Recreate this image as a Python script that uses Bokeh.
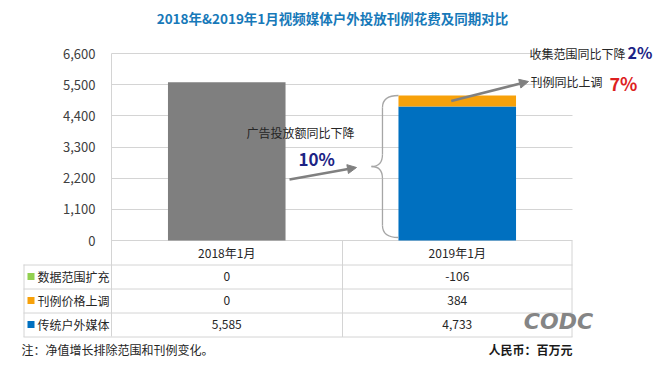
from bokeh.plotting import figure
from bokeh.models import (Range1d, FixedTicker, NumeralTickFormatter, LinearAxis, Grid,
                          Label, Arrow, NormalHead, ColumnDataSource)
from bokeh.core.properties import value
from bokeh.embed import file_html
from bokeh.resources import INLINE

# ---------------- data ----------------
title_text = "2018年&2019年1月视频媒体户外投放刊例花费及同期对比"
categories = ["2018年1月", "2019年1月"]
series_names = ["数据范围扩充", "刊例价格上调", "传统户外媒体"]
scope_change = [0, -106]
price_change = [0, 384]
traditional = [5585, 4733]
y_ticks = [0, 1100, 2200, 3300, 4400, 5500, 6600]
ad_drop_text = "广告投放额同比下降"
ad_drop_pct = "10%"
price_up_text = "刊例同比上调"
price_up_pct = "7%"
scope_drop_text = "收集范围同比下降"
scope_drop_pct = "2%"
note_text = "注：净值增长排除范围和刊例变化。"
unit_text = "人民币：百万元"
logo_text = "CODC"

# ---------------- style ----------------
FONT = "Noto Sans CJK SC"
GRID = "#d4d4d4"
TXT = "#262626"
NAVY = "#1c2385"
RED = "#dd1f1f"
ARROW_C = "#808080"
TITLE_C = "#1779b9"
series_colors = {"数据范围扩充": "#92d050", "刊例价格上调": "#f7a10a", "传统户外媒体": "#0070c0"}
base_colors = ["#7f7f7f", "#0070c0"]
BAR_W = 0.51

# canvas geometry (px)
W, H = 660, 368
LEFT, RIGHT = 111, 572          # plot area / table data columns
TOP, ZERO = 53, 240             # y of 6600 and of 0
ROW_H = 24
LABEL_COL_LEFT = 23
Y_MAX = y_ticks[-1]
ncat = len(categories)
col_w = (RIGHT - LEFT) / ncat
v_per_px = Y_MAX / (ZERO - TOP)


def dx(px):
    return (px - LEFT) / col_w


def dy(py):
    return (ZERO - py) * v_per_px


p = figure(width=W, height=H, title=None,
           x_range=Range1d(dx(0), dx(W)), y_range=Range1d(dy(H), dy(0)),
           x_axis_location=None, y_axis_location=None, min_border=0,
           output_backend="svg", toolbar_location=None)
p.outline_line_color = None
p.background_fill_color = "white"
p.border_fill_color = "white"
p.grid.visible = False

n_rows = len(series_names)
head_bottom = ZERO + ROW_H
table_bottom = ZERO + ROW_H * (n_rows + 1)

# y axis drawn at the left edge of the plot area
yaxis = LinearAxis(ticker=FixedTicker(ticks=y_ticks), formatter=NumeralTickFormatter(format="0,0"),
                   fixed_location=0, bounds=(dy(table_bottom), Y_MAX),
                   axis_line_color=GRID, major_tick_line_color=None, minor_tick_line_color=None,
                   major_tick_in=0, major_tick_out=0, major_label_standoff=16,
                   major_label_text_font=FONT, major_label_text_font_size="13px",
                   major_label_text_color="#404040")
p.add_layout(yaxis, "left")

# horizontal gridlines limited to the category columns
if "cross_bounds" in Grid.properties():
    p.add_layout(Grid(dimension=1, ticker=FixedTicker(ticks=y_ticks), grid_line_color=GRID,
                      cross_bounds=(0, ncat)), "center")
else:
    p.segment(x0=[0] * len(y_ticks), y0=y_ticks, x1=[ncat] * len(y_ticks), y1=y_ticks,
              line_color=GRID, line_width=1)

# bars
xs = [i + 0.5 for i in range(ncat)]
price_top = [t + c for t, c in zip(traditional, price_change)]
src = ColumnDataSource(dict(x=xs, base=traditional, price_top=price_top, color=base_colors))
p.vbar(x="x", bottom=0, top="base", width=BAR_W, fill_color="color", line_color=None, source=src)
p.vbar(x="x", bottom="base", top="price_top", width=BAR_W,
       fill_color=series_colors["刊例价格上调"], line_color=None, source=src)

# ---------------- table ----------------
hl = [head_bottom + ROW_H * i + 0.5 for i in range(n_rows + 1)]
p.segment(x0=[dx(LABEL_COL_LEFT)] * len(hl), y0=[dy(v) for v in hl],
          x1=[ncat] * len(hl), y1=[dy(v) for v in hl], line_color=GRID, line_width=1)
vx = [dx(LABEL_COL_LEFT + 0.5)]
vy0 = [dy(head_bottom)]
for j in range(1, ncat + 1):
    vx.append(j - (0.5 / col_w if j == ncat else -0.5 / col_w))
    vy0.append(0)
p.segment(x0=vx, y0=vy0, x1=vx, y1=[dy(table_bottom + 0.5)] * len(vx), line_color=GRID, line_width=1)

p.text(x=xs, y=[dy(ZERO + ROW_H / 2)] * ncat, text=categories,
       text_align="center", text_baseline="middle", text_font=value(FONT),
       text_font_size="12px", text_color=TXT)

row_y = [dy(head_bottom + ROW_H * (i + 0.5)) for i in range(n_rows)]
p.scatter(x=[dx(30.5)] * n_rows, y=row_y, marker="square", size=7, line_color=None,
          fill_color=[series_colors[s] for s in series_names])
p.text(x=[dx(37)] * n_rows, y=row_y, text=series_names, text_align="left", text_baseline="middle",
       text_font=value(FONT), text_font_size="12px", text_color=TXT)

table_vals = [scope_change, price_change, traditional]
tx, ty, tt = [], [], []
for i, vals in enumerate(table_vals):
    for j, v in enumerate(vals):
        tx.append(xs[j])
        ty.append(row_y[i])
        tt.append(f"{v:,}")
p.text(x=tx, y=ty, text=tt, text_align="center", text_baseline="middle",
       text_font=value(FONT), text_font_size="12px", text_color=TXT)

# ---------------- brace & arrows ----------------
bx_end = 1.5 - BAR_W / 2
bx_v = bx_end - 16 / col_w
bx_tip = bx_end - 27 / col_w
b_top = price_top[1]
b_bot = 3 * v_per_px
b_mid = (b_top + b_bot) / 2
r = 12 * v_per_px
p.quadratic(x0=[bx_end, bx_v, bx_tip, bx_v], y0=[b_top, b_mid + r, b_mid, b_bot + r],
            x1=[bx_v, bx_tip, bx_v, bx_end], y1=[b_top - r, b_mid, b_mid - r, b_bot],
            cx=[bx_v, bx_v, bx_v, bx_v], cy=[b_top, b_mid, b_mid, b_bot],
            line_color="#a6a6a6", line_width=1.3)
p.segment(x0=[bx_v, bx_v], y0=[b_top - r, b_mid - r], x1=[bx_v, bx_v], y1=[b_mid + r, b_bot + r],
          line_color="#a6a6a6", line_width=1.3)

p.add_layout(Arrow(end=NormalHead(size=9, fill_color=ARROW_C, line_color=ARROW_C),
                   x_start=dx(289), y_start=dy(179), x_end=dx(356), y_end=dy(167),
                   line_color=ARROW_C, line_width=2.5))
p.add_layout(Arrow(end=NormalHead(size=9, fill_color=ARROW_C, line_color=ARROW_C),
                   x_start=1.5 - 6 / col_w, y_start=(traditional[1] + price_top[1]) / 2,
                   x_end=dx(528), y_end=dy(81),
                   line_color=ARROW_C, line_width=2.5))


def lab(text, px, py, size="12px", color=TXT, style="normal", align="left", font=FONT):
    p.add_layout(Label(x=dx(px), y=dy(py), text=text, text_font=font, text_font_size=size,
                       text_color=color, text_font_style=style, text_align=align,
                       text_baseline="middle"))


lab(title_text, 332, 17, size="13.5px", color=TITLE_C, style="bold", align="center")
lab(ad_drop_text, 246, 132)
lab(ad_drop_pct, 298, 158, size="17px", color=NAVY, style="bold")
lab(price_up_text, 530, 81)
lab(price_up_pct, 609, 82, size="18px", color=RED, style="bold")
lab(scope_drop_text, 529, 53)
lab(scope_drop_pct, 627, 51, size="16px", color=NAVY, style="bold")
lab(note_text, 21, 349)
lab(unit_text, 488, 349, color="#1a1a1a", style="bold")
lab(logo_text, 558, 321, size="22px", color="#858585", style="bold italic", align="center",
    font="DejaVu Sans")

open("out.html", "w").write(file_html(p, INLINE))
